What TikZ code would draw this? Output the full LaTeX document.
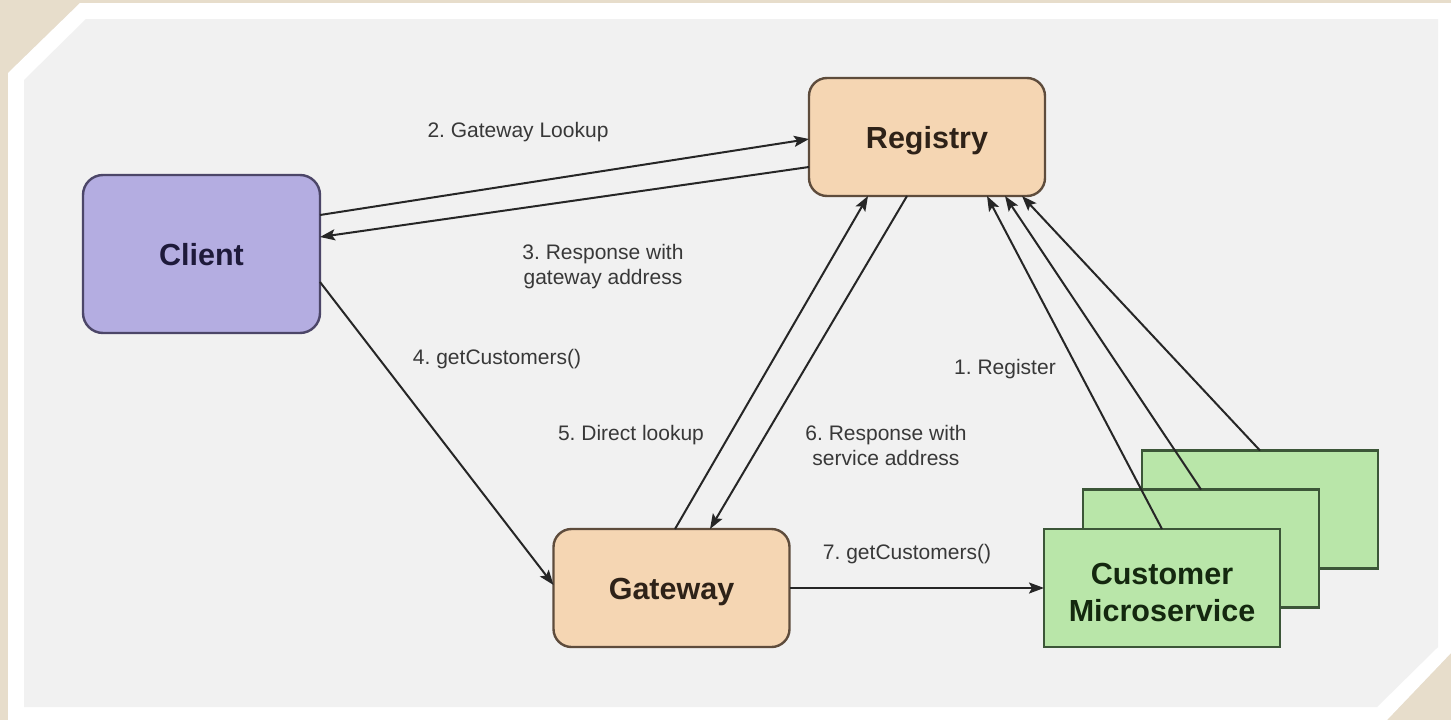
\documentclass[tikz,border=0pt]{standalone}
\usepackage{fontspec}
\setmainfont{Liberation Sans}
\usetikzlibrary{arrows.meta}
\frenchspacing

\definecolor{beige}{HTML}{E7DDCB}
\definecolor{panel}{HTML}{F1F1F1}
\definecolor{clientfill}{HTML}{B4ADE1}
\definecolor{clientline}{HTML}{4C4668}
\definecolor{clienttext}{HTML}{1E1A3A}
\definecolor{peachfill}{HTML}{F5D6B3}
\definecolor{peachline}{HTML}{5E4C3C}
\definecolor{peachtext}{HTML}{2E2218}
\definecolor{greenfill}{HTML}{B9E6A9}
\definecolor{greenline}{HTML}{3C5638}
\definecolor{greentext}{HTML}{14280F}
\definecolor{labeltext}{HTML}{383838}
\definecolor{arrowline}{HTML}{262626}

\tikzset{
  box/.style={draw, line width=2.4pt, inner sep=0pt, outer sep=0pt,
    font=\fontsize{30.5}{37}\selectfont\bfseries, align=center,
    text height=22pt, text depth=0pt},
  clientbox/.style={box, fill=clientfill, draw=clientline, text=clienttext,
    rounded corners=20pt, minimum width=237pt, minimum height=158pt},
  peachbox/.style={box, fill=peachfill, draw=peachline, text=peachtext,
    rounded corners=18pt, minimum width=236pt, minimum height=118pt},
  servicebox/.style={box, fill=greenfill, draw=greenline, text=greentext,
    minimum width=236pt, minimum height=118pt},
  flow/.style={draw=arrowline, line width=2pt,
    -{Stealth[length=15pt, width=11pt, inset=3pt]}},
  steplabel/.style={text=labeltext, font=\fontsize{21}{25}\selectfont,
    align=center, inner sep=0pt}
}

\begin{document}
\begin{tikzpicture}[x=1pt, y=-1pt]
  \useasboundingbox (0,0) rectangle (1451,720);

  % textured border, white mat and grey panel
  \fill[beige] (0,0) rectangle (1451,720);
  \fill[white] (8,73) -- (80,3) -- (1451,3) -- (1451,653) -- (1387,720) -- (8,720) -- cycle;
  \fill[panel] (24,80) -- (86,19) -- (1438,19) -- (1438,647) -- (1377,707) -- (24,707) -- cycle;

  % nodes
  \node[clientbox] (client) at (201.5,254) {Client};
  \node[peachbox] (registry) at (927,137) {Registry};
  \node[peachbox] (gateway) at (671.5,588) {Gateway};

  % stacked service instances, back to front
  \node[servicebox] (svcback) at (1260,509.5) {};
  \node[servicebox] (svcmid) at (1201,548.5) {};
  \node[servicebox, text height=66pt, text depth=0pt] (svcfront) at (1162,588)
    {Customer\\Microservice};

  % connectors
  \draw[flow] ([yshift=-40pt]client.north east) -- ([yshift=-2pt]registry.west);
  \draw[flow] ([yshift=-30pt]registry.west) -- ([yshift=-62pt]client.north east);
  \draw[flow] ([yshift=-107pt]client.north east) -- ([yshift=3pt]gateway.west);
  \draw[flow] ([xshift=3.5pt]gateway.north) -- ([xshift=-59pt]registry.south);
  \draw[flow] ([xshift=-20pt]registry.south) -- ([xshift=38.5pt]gateway.north);
  \draw[flow] (gateway.east) -- (svcfront.west);
  \draw[flow] (svcfront.north) -- ([xshift=60pt]registry.south);
  \draw[flow] (svcmid.north) -- ([xshift=78pt]registry.south);
  \draw[flow] (svcback.north) -- ([xshift=95pt]registry.south);

  % step labels
  \node[steplabel] (l1) at (1005,369) {1. Register};
  \node[steplabel] (l2) at (518,132) {2. Gateway Lookup};
  \node[steplabel] (l3) at (603,267) {3. Response with\\gateway address};
  \node[steplabel] (l4) at (497,359) {4. getCustomers()};
  \node[steplabel] (l5) at (631,435) {5. Direct lookup};
  \node[steplabel] (l6) at (886,445) {6. Response with\\service address};
  \node[steplabel] (l7) at (907,554) {7. getCustomers()};
\end{tikzpicture}
\end{document}
